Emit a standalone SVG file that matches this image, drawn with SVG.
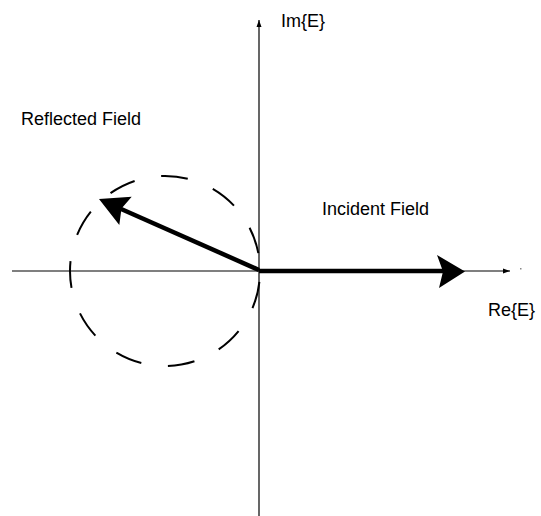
<svg xmlns="http://www.w3.org/2000/svg" width="541" height="516" viewBox="0 0 541 516">
<style>
.axis{stroke:#000;stroke-width:1.2;fill:none}
.vec{stroke:#000;stroke-width:4.5;fill:none}
.head{fill:#000;stroke:none}
.lbl{font-family:"Liberation Sans",Arial,sans-serif;font-size:18px;fill:#000}
.circ{stroke:#000;stroke-width:2;fill:none;stroke-dasharray:27 27}
</style>
<defs>
<marker id="axhead" markerWidth="8" markerHeight="6" refX="7" refY="3" orient="auto" markerUnits="userSpaceOnUse">
<path d="M0,0.5 L7,3 L0,5.5 Z" fill="#000"/>
</marker>
</defs>
<g id="connectors">
<line id="re-axis" class="axis" x1="12" y1="271" x2="510" y2="271" marker-end="url(#axhead)"/>
<line id="im-axis" class="axis" x1="259" y1="516" x2="259" y2="20" marker-end="url(#axhead)"/>
<rect x="520" y="268" width="1.5" height="1.5" fill="#888"/>
</g>
<g id="reflection-circle">
<circle class="circ" cx="165" cy="271" r="95" stroke-dashoffset="43"/>
</g>
<g id="incident-field-vector">
<line class="vec" x1="259" y1="271" x2="445" y2="271"/>
<path class="head" d="M465,271.5 L437,255 L443,271.5 L439,288 Z"/>
</g>
<g id="reflected-field-vector">
<line class="vec" x1="259" y1="270" x2="120" y2="208.5"/>
<path class="head" d="M99,199 L131.7,196.7 L121.5,208.5 L119.3,225 Z"/>
</g>
<g id="labels">
<text class="lbl" x="281" y="27">Im{E}</text>
<text class="lbl" x="21" y="125">Reflected Field</text>
<text class="lbl" x="322" y="215">Incident Field</text>
<text class="lbl" x="488" y="316">Re{E}</text>
</g>
</svg>
